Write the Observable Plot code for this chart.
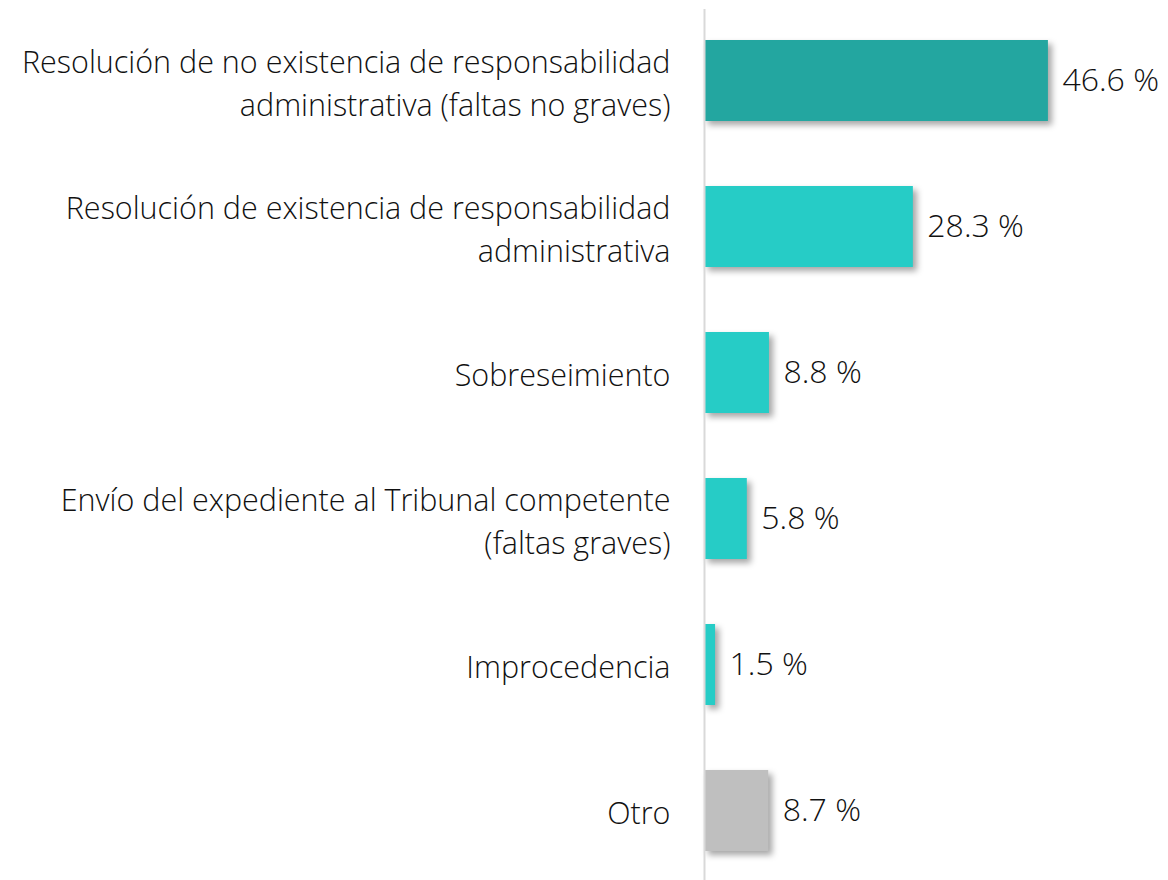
<!DOCTYPE html>
<html>
<head>
<meta charset="utf-8">
<script src="https://cdn.jsdelivr.net/npm/d3@7"></script>
<script src="https://cdn.jsdelivr.net/npm/@observablehq/plot@0.6"></script>
<style>
  html, body { margin: 0; padding: 0; background: #fff; }
  #chart svg { display: block; }
</style>
</head>
<body>
<div id="chart"></div>
<script>
const categories = [
  "Resolución de no existencia de responsabilidad\nadministrativa (faltas no graves)",
  "Resolución de existencia de responsabilidad\nadministrativa",
  "Sobreseimiento",
  "Envío del expediente al Tribunal competente\n(faltas graves)",
  "Improcedencia",
  "Otro"
];
const values = [46.6, 28.3, 8.8, 5.8, 1.5, 8.7];
const valueLabels = ["46.6 %", "28.3 %", "8.8 %", "5.8 %", "1.5 %", "8.7 %"];

const data = categories.map((c, i) => ({category: c, value: values[i], label: valueLabels[i]}));
const fillColors = ["#23A6A0", "#26CCC6", "#26CCC6", "#26CCC6", "#26CCC6", "#BFBFBF"];

const chart = Plot.plot({
  width: 1168,
  height: 880,
  marginLeft: 704,
  marginRight: 95,
  marginTop: 9,
  marginBottom: 0,
  style: {fontFamily: "'Open Sans', Lato, sans-serif", background: "#fff"},
  x: {domain: [0, 50], axis: null},
  y: {domain: categories, axis: null, paddingInner: 0.445, paddingOuter: 0.2, align: 0.52},
  color: {domain: categories, range: fillColors},
  marks: [
    Plot.barX(data, {x: "value", y: "category", fill: "category", className: "bars"}),
    Plot.ruleX([0], {stroke: "#d9d9d9", strokeWidth: 2}),
    Plot.text(data, {x: 0, y: "category", text: "category", textAnchor: "end", dx: -34,
      fontSize: 30.5, fontWeight: 300, lineHeight: 1.38, fill: "#111"}),
    Plot.text(data, {x: "value", y: "category", text: "label", textAnchor: "start", dx: 14,
      fontSize: 32, fontWeight: 300, fill: "#111"})
  ]
});
d3.select(chart).selectAll(".bars rect")
  .style("filter", "drop-shadow(4px 4px 3px rgba(0,0,0,0.35))");
document.getElementById("chart").appendChild(chart);
</script>
</body>
</html>
